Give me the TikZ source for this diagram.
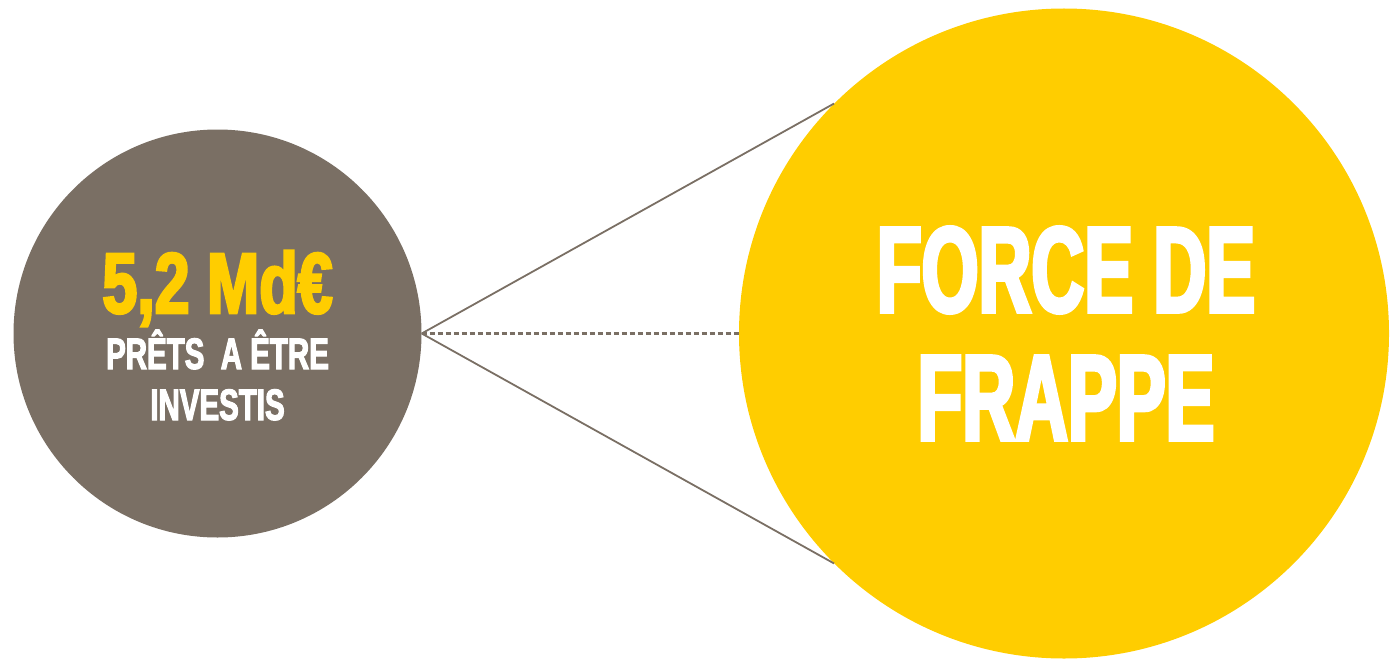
\documentclass[tikz,border=0pt]{standalone}
\usepackage{fontspec}
\usepackage{xcolor}
\usepackage{tikz}
\usetikzlibrary{calc, positioning}
\newfontfamily\titlecondfont[FakeStretch=0.60,FakeBold=3]{Liberation Sans Bold}
\newfontfamily\amountcondfont[FakeStretch=0.73,FakeBold=3]{Liberation Sans Bold}
\newfontfamily\smallcondfont[FakeStretch=0.67,FakeBold=2.5]{Liberation Sans Bold}
\definecolor{TaupeGrey}{RGB}{122, 111, 100}
\definecolor{GoldYellow}{RGB}{255, 205, 0}

\begin{document}
\begin{tikzpicture}[x=1pt, y=-1pt]
          \useasboundingbox (0,0) rectangle (1396,658);
          \node[circle, fill=TaupeGrey, inner sep=0, minimum size=408pt] (prets) at (217.5,333.5) {};
          \node[circle, fill=GoldYellow, inner sep=0, minimum size=650pt] (frappe) at (1064,333.5) {};
          \node[anchor=base, text=GoldYellow, inner sep=0] (montant) at (217.5,313) {\amountcondfont\fontsize{86}{86}\selectfont 5,2 Md€};
          \node[anchor=base, text=white, inner sep=0] (ligne1) at (217.5,369) {\smallcondfont\fontsize{44}{44}\selectfont PRÊTS\ \ A ÊTRE};
          \node[anchor=base, text=white, inner sep=0] (ligne2) at (217.5,420) {\smallcondfont\fontsize{44}{44}\selectfont INVESTIS};
          \node[anchor=base, text=white, inner sep=0] (titre1) at (1066,312) {\titlecondfont\fontsize{122}{122}\selectfont FORCE DE};
          \node[anchor=base, text=white, inner sep=0] (titre2) at (1066,440) {\titlecondfont\fontsize{122}{122}\selectfont FRAPPE};
          \draw[line width=1.8pt, color=TaupeGrey] (prets.east) -- (frappe.135);
          \draw[line width=1.8pt, color=TaupeGrey] (prets.east) -- (frappe.225);
          \draw[line width=2.2pt, color=TaupeGrey, dash pattern=on 5pt off 3pt] (prets.east) -- (frappe.west);
        \end{tikzpicture}
\end{document}
